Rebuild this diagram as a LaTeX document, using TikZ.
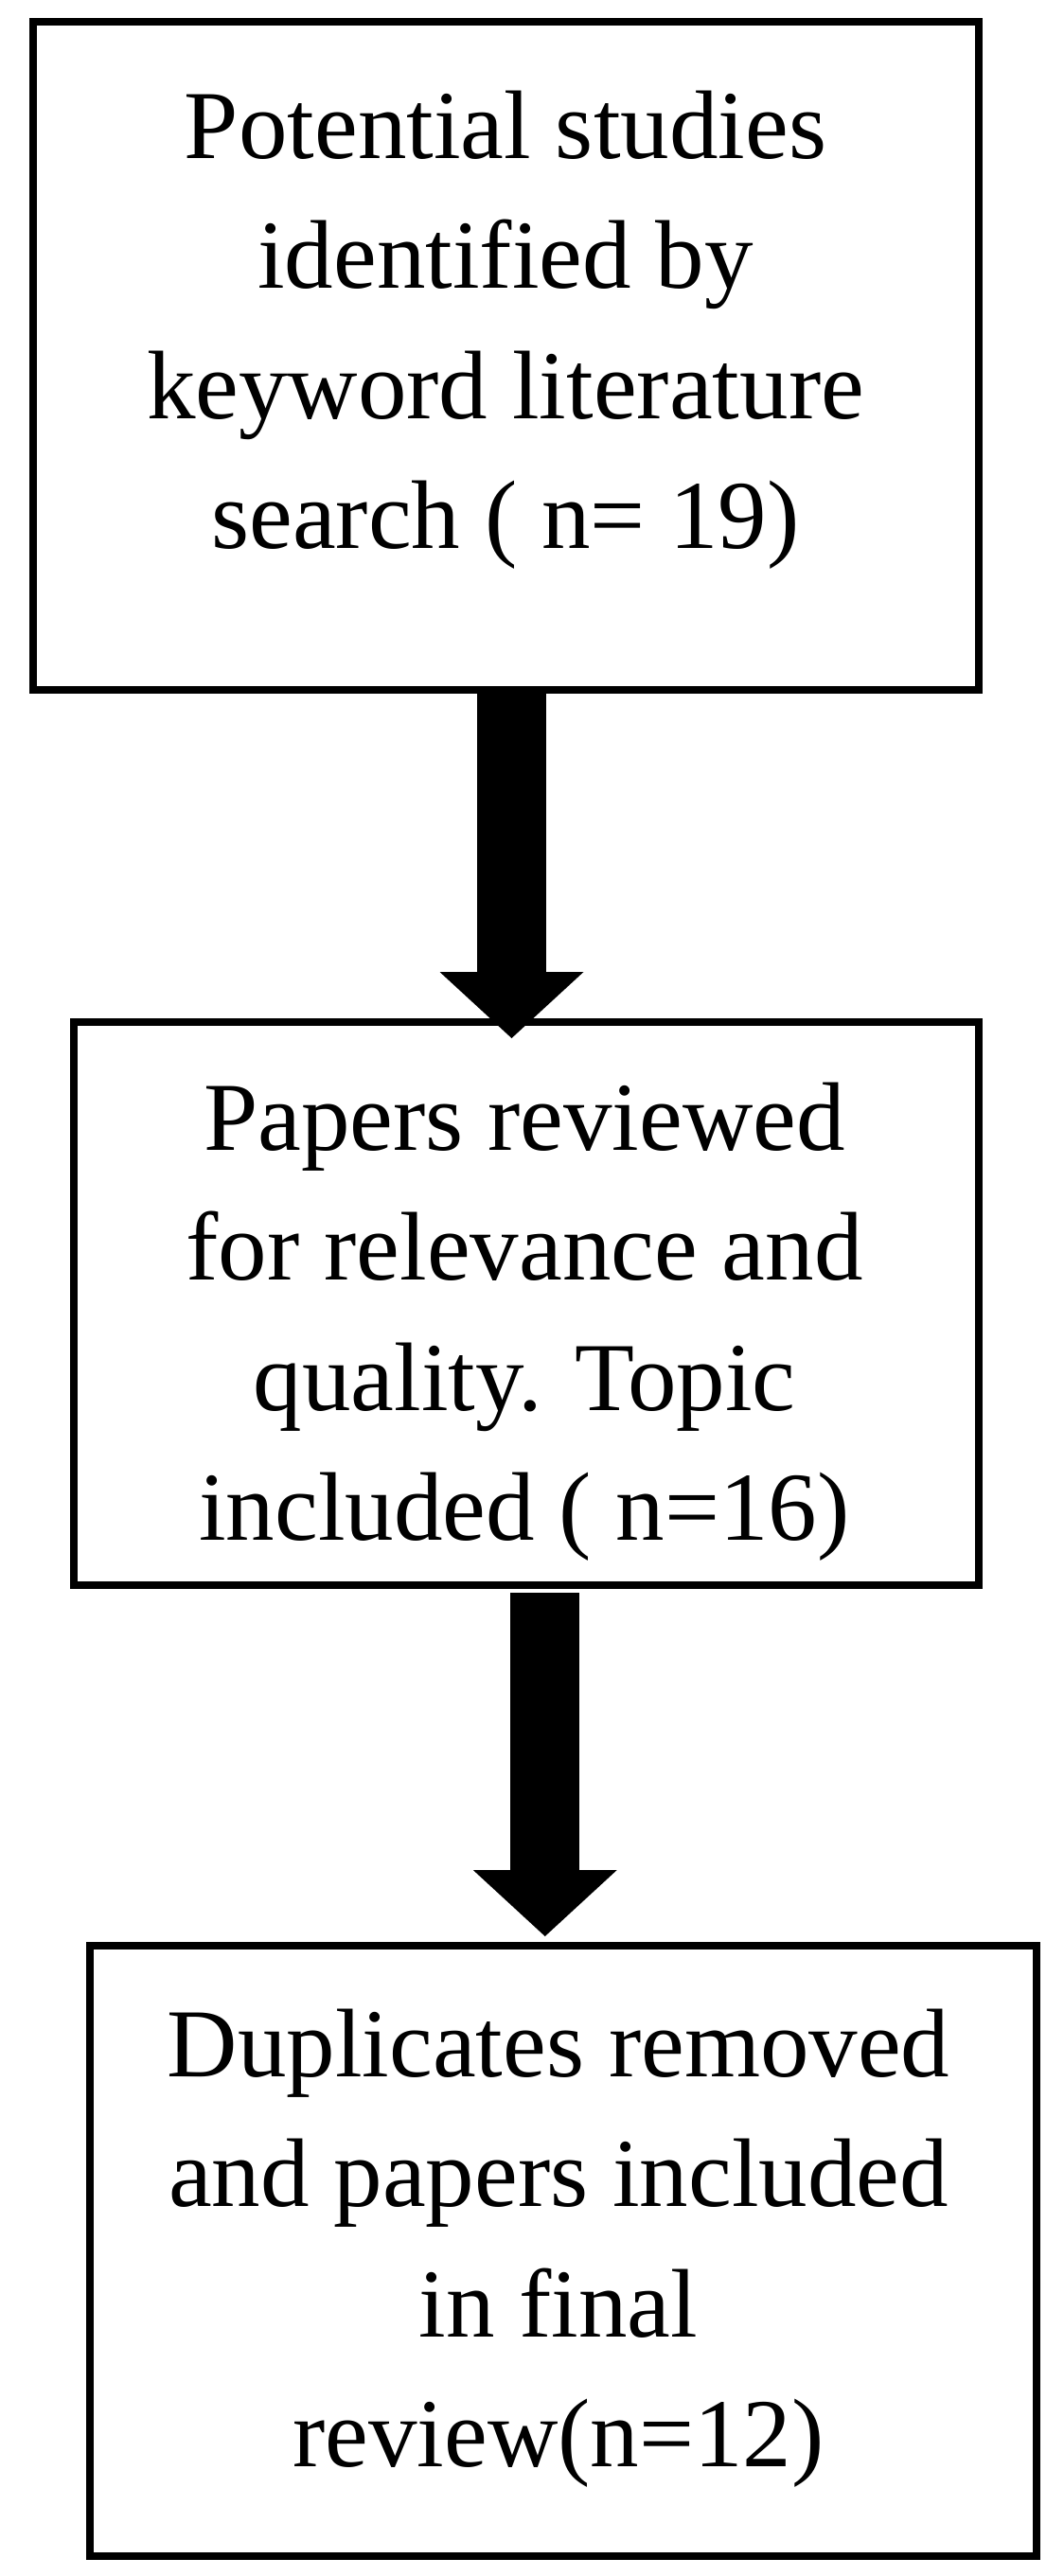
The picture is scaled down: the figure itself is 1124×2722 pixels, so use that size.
\documentclass[tikz,border=0pt]{standalone}
\usepackage{fontspec}
\setmainfont{Liberation Serif}
\usetikzlibrary{arrows.meta,calc}
\begin{document}
\begin{tikzpicture}[x=1pt,y=-1pt,
  stepbox/.style={draw=black,line width=8pt,inner sep=0pt,outer sep=0pt},
  boxtext/.style={font=\fontsize{103}{137.5}\selectfont,align=center,inner sep=0pt,outer sep=0pt,anchor=north},
  bigarrow/.style={draw=black,line width=73pt,-{Triangle[width=152pt,length=70pt,line width=0pt]}}]
\fill[white] (0,0) rectangle (1124,2722);
\useasboundingbox (0,0) rectangle (1124,2722);
% boxes
\node[stepbox,minimum width=999.5pt,minimum height=706pt] (b1) at (534.25,376) {};
\node[stepbox,minimum width=956.5pt,minimum height=595pt] (b2) at (555.75,1377.5) {};
\node[stepbox,minimum width=1000pt,minimum height=645pt] (b3) at (595,2378.5) {};
% texts
\node[boxtext] (t1) at (534,96) {Potential studies\\identified by\\keyword literature\\search ( n= 19)};
\node[boxtext] (t2) at (554,1143.7) {Papers reviewed\\for relevance and\\quality. Topic\\included ( n=16)};
\node[boxtext] (t3) at (590,2122.6) {Duplicates removed\\and papers included\\in final\\review(n=12)};
% arrows
\coordinate (a1s) at ($(b1.south)+(6.25,0)$);
\coordinate (a1e) at ($(b2.north)+(-15.25,17)$);
\coordinate (a2s) at ($(b2.south)+(20,8)$);
\coordinate (a2e) at ($(b3.north)+(-19.25,-10)$);
\draw[bigarrow] (a1s) -- (a1e);
\draw[bigarrow] (a2s) -- (a2e);
\end{tikzpicture}
\end{document}
